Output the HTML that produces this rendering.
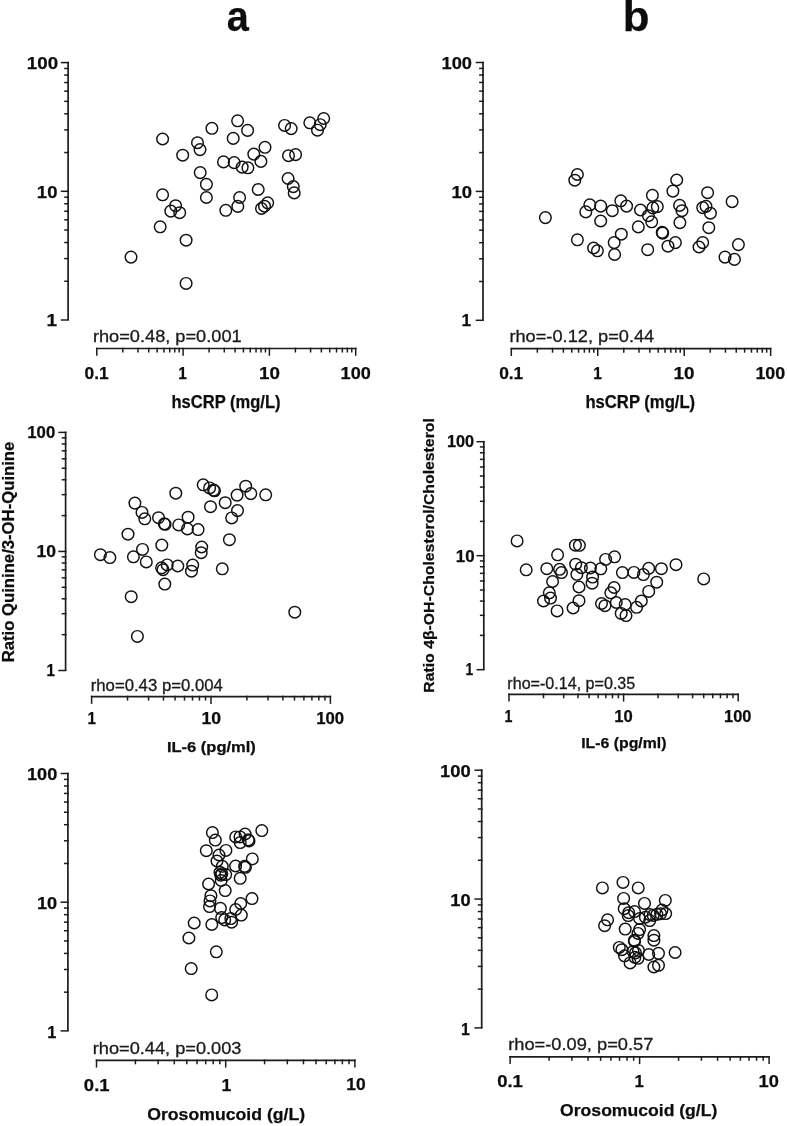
<!DOCTYPE html>
<html><head><meta charset="utf-8"><style>
html,body{margin:0;padding:0;background:#fff;}
svg{display:block;will-change:transform;}
text{font-family:"Liberation Sans", sans-serif;}
circle{fill:none;stroke:#111;stroke-width:1.45;}
</style></head><body>
<svg width="787" height="1126" viewBox="0 0 787 1126">
<line x1="68.10" y1="61.85" x2="68.10" y2="320.00" stroke="#1c1c1c" stroke-width="1.7"/>
<line x1="60.80" y1="320.00" x2="68.95" y2="320.00" stroke="#1c1c1c" stroke-width="1.5"/>
<line x1="64.20" y1="281.26" x2="68.95" y2="281.26" stroke="#1c1c1c" stroke-width="1.5"/>
<line x1="64.20" y1="258.59" x2="68.95" y2="258.59" stroke="#1c1c1c" stroke-width="1.5"/>
<line x1="64.20" y1="242.51" x2="68.95" y2="242.51" stroke="#1c1c1c" stroke-width="1.5"/>
<line x1="64.20" y1="230.04" x2="68.95" y2="230.04" stroke="#1c1c1c" stroke-width="1.5"/>
<line x1="64.20" y1="219.85" x2="68.95" y2="219.85" stroke="#1c1c1c" stroke-width="1.5"/>
<line x1="64.20" y1="211.24" x2="68.95" y2="211.24" stroke="#1c1c1c" stroke-width="1.5"/>
<line x1="64.20" y1="203.77" x2="68.95" y2="203.77" stroke="#1c1c1c" stroke-width="1.5"/>
<line x1="64.20" y1="197.19" x2="68.95" y2="197.19" stroke="#1c1c1c" stroke-width="1.5"/>
<line x1="60.80" y1="191.30" x2="68.95" y2="191.30" stroke="#1c1c1c" stroke-width="1.5"/>
<line x1="64.20" y1="152.56" x2="68.95" y2="152.56" stroke="#1c1c1c" stroke-width="1.5"/>
<line x1="64.20" y1="129.89" x2="68.95" y2="129.89" stroke="#1c1c1c" stroke-width="1.5"/>
<line x1="64.20" y1="113.81" x2="68.95" y2="113.81" stroke="#1c1c1c" stroke-width="1.5"/>
<line x1="64.20" y1="101.34" x2="68.95" y2="101.34" stroke="#1c1c1c" stroke-width="1.5"/>
<line x1="64.20" y1="91.15" x2="68.95" y2="91.15" stroke="#1c1c1c" stroke-width="1.5"/>
<line x1="64.20" y1="82.54" x2="68.95" y2="82.54" stroke="#1c1c1c" stroke-width="1.5"/>
<line x1="64.20" y1="75.07" x2="68.95" y2="75.07" stroke="#1c1c1c" stroke-width="1.5"/>
<line x1="64.20" y1="68.49" x2="68.95" y2="68.49" stroke="#1c1c1c" stroke-width="1.5"/>
<line x1="60.80" y1="62.60" x2="68.95" y2="62.60" stroke="#1c1c1c" stroke-width="1.5"/>
<line x1="96.05" y1="348.50" x2="356.45" y2="348.50" stroke="#1c1c1c" stroke-width="1.7"/>
<line x1="96.80" y1="347.65" x2="96.80" y2="355.80" stroke="#1c1c1c" stroke-width="1.5"/>
<line x1="122.78" y1="347.65" x2="122.78" y2="352.50" stroke="#1c1c1c" stroke-width="1.5"/>
<line x1="137.98" y1="347.65" x2="137.98" y2="352.50" stroke="#1c1c1c" stroke-width="1.5"/>
<line x1="148.76" y1="347.65" x2="148.76" y2="352.50" stroke="#1c1c1c" stroke-width="1.5"/>
<line x1="157.12" y1="347.65" x2="157.12" y2="352.50" stroke="#1c1c1c" stroke-width="1.5"/>
<line x1="163.95" y1="347.65" x2="163.95" y2="352.50" stroke="#1c1c1c" stroke-width="1.5"/>
<line x1="169.73" y1="347.65" x2="169.73" y2="352.50" stroke="#1c1c1c" stroke-width="1.5"/>
<line x1="174.74" y1="347.65" x2="174.74" y2="352.50" stroke="#1c1c1c" stroke-width="1.5"/>
<line x1="179.15" y1="347.65" x2="179.15" y2="352.50" stroke="#1c1c1c" stroke-width="1.5"/>
<line x1="183.10" y1="347.65" x2="183.10" y2="355.80" stroke="#1c1c1c" stroke-width="1.5"/>
<line x1="209.08" y1="347.65" x2="209.08" y2="352.50" stroke="#1c1c1c" stroke-width="1.5"/>
<line x1="224.28" y1="347.65" x2="224.28" y2="352.50" stroke="#1c1c1c" stroke-width="1.5"/>
<line x1="235.06" y1="347.65" x2="235.06" y2="352.50" stroke="#1c1c1c" stroke-width="1.5"/>
<line x1="243.42" y1="347.65" x2="243.42" y2="352.50" stroke="#1c1c1c" stroke-width="1.5"/>
<line x1="250.25" y1="347.65" x2="250.25" y2="352.50" stroke="#1c1c1c" stroke-width="1.5"/>
<line x1="256.03" y1="347.65" x2="256.03" y2="352.50" stroke="#1c1c1c" stroke-width="1.5"/>
<line x1="261.04" y1="347.65" x2="261.04" y2="352.50" stroke="#1c1c1c" stroke-width="1.5"/>
<line x1="265.45" y1="347.65" x2="265.45" y2="352.50" stroke="#1c1c1c" stroke-width="1.5"/>
<line x1="269.40" y1="347.65" x2="269.40" y2="355.80" stroke="#1c1c1c" stroke-width="1.5"/>
<line x1="295.38" y1="347.65" x2="295.38" y2="352.50" stroke="#1c1c1c" stroke-width="1.5"/>
<line x1="310.58" y1="347.65" x2="310.58" y2="352.50" stroke="#1c1c1c" stroke-width="1.5"/>
<line x1="321.36" y1="347.65" x2="321.36" y2="352.50" stroke="#1c1c1c" stroke-width="1.5"/>
<line x1="329.72" y1="347.65" x2="329.72" y2="352.50" stroke="#1c1c1c" stroke-width="1.5"/>
<line x1="336.55" y1="347.65" x2="336.55" y2="352.50" stroke="#1c1c1c" stroke-width="1.5"/>
<line x1="342.33" y1="347.65" x2="342.33" y2="352.50" stroke="#1c1c1c" stroke-width="1.5"/>
<line x1="347.34" y1="347.65" x2="347.34" y2="352.50" stroke="#1c1c1c" stroke-width="1.5"/>
<line x1="351.75" y1="347.65" x2="351.75" y2="352.50" stroke="#1c1c1c" stroke-width="1.5"/>
<line x1="355.70" y1="347.65" x2="355.70" y2="355.80" stroke="#1c1c1c" stroke-width="1.5"/>
<text x="26.88" y="68.70" font-size="17" font-weight="bold" stroke="#0d0d0d" stroke-width="0.25" textLength="31.25" lengthAdjust="spacingAndGlyphs" fill="#0d0d0d">100</text>
<text x="36.89" y="197.60" font-size="17" font-weight="bold" stroke="#0d0d0d" stroke-width="0.25" textLength="20.59" lengthAdjust="spacingAndGlyphs" fill="#0d0d0d">10</text>
<text x="46.46" y="326.10" font-size="17" font-weight="bold" stroke="#0d0d0d" stroke-width="0.25" textLength="10.53" lengthAdjust="spacingAndGlyphs" fill="#0d0d0d">1</text>
<text x="84.61" y="378.50" font-size="17" font-weight="bold" stroke="#0d0d0d" stroke-width="0.25" textLength="24.12" lengthAdjust="spacingAndGlyphs" fill="#0d0d0d">0.1</text>
<text x="178.17" y="378.60" font-size="17" font-weight="bold" stroke="#0d0d0d" stroke-width="0.25" textLength="8.64" lengthAdjust="spacingAndGlyphs" fill="#0d0d0d">1</text>
<text x="259.07" y="378.70" font-size="17" font-weight="bold" stroke="#0d0d0d" stroke-width="0.25" textLength="20.93" lengthAdjust="spacingAndGlyphs" fill="#0d0d0d">10</text>
<text x="340.61" y="378.60" font-size="17" font-weight="bold" stroke="#0d0d0d" stroke-width="0.25" textLength="30.29" lengthAdjust="spacingAndGlyphs" fill="#0d0d0d">100</text>
<text x="92.93" y="342.10" font-size="17" stroke="#1a1a1a" stroke-width="0.3" textLength="148.75" lengthAdjust="spacingAndGlyphs" fill="#1a1a1a">rho=0.48, p=0.001</text>
<text x="171.44" y="408.00" font-size="17.5" font-weight="bold" stroke="#0d0d0d" stroke-width="0.25" textLength="109.13" lengthAdjust="spacingAndGlyphs" fill="#0d0d0d">hsCRP (mg/L)</text>
<circle cx="162.6" cy="139.0" r="5.8"/>
<circle cx="211.9" cy="128.3" r="5.8"/>
<circle cx="237.6" cy="120.8" r="5.8"/>
<circle cx="197.5" cy="142.7" r="5.8"/>
<circle cx="200.0" cy="149.6" r="5.8"/>
<circle cx="182.7" cy="155.2" r="5.8"/>
<circle cx="233.2" cy="138.4" r="5.8"/>
<circle cx="223.5" cy="161.9" r="5.8"/>
<circle cx="234.2" cy="162.6" r="5.8"/>
<circle cx="242.2" cy="167.1" r="5.8"/>
<circle cx="200.2" cy="172.6" r="5.8"/>
<circle cx="206.4" cy="184.3" r="5.8"/>
<circle cx="206.4" cy="197.5" r="5.8"/>
<circle cx="162.6" cy="194.8" r="5.8"/>
<circle cx="175.6" cy="205.7" r="5.8"/>
<circle cx="170.8" cy="211.1" r="5.8"/>
<circle cx="179.7" cy="212.7" r="5.8"/>
<circle cx="160.2" cy="226.8" r="5.8"/>
<circle cx="186.1" cy="240.2" r="5.8"/>
<circle cx="225.8" cy="210.3" r="5.8"/>
<circle cx="239.6" cy="197.5" r="5.8"/>
<circle cx="237.8" cy="206.4" r="5.8"/>
<circle cx="247.6" cy="130.4" r="5.8"/>
<circle cx="265.0" cy="147.3" r="5.8"/>
<circle cx="253.8" cy="154.1" r="5.8"/>
<circle cx="260.9" cy="161.4" r="5.8"/>
<circle cx="247.9" cy="167.8" r="5.8"/>
<circle cx="258.2" cy="189.5" r="5.8"/>
<circle cx="267.7" cy="202.8" r="5.8"/>
<circle cx="264.5" cy="206.2" r="5.8"/>
<circle cx="261.5" cy="208.5" r="5.8"/>
<circle cx="284.6" cy="125.4" r="5.8"/>
<circle cx="291.2" cy="128.6" r="5.8"/>
<circle cx="288.5" cy="155.7" r="5.8"/>
<circle cx="295.6" cy="154.6" r="5.8"/>
<circle cx="288.1" cy="178.5" r="5.8"/>
<circle cx="293.3" cy="186.6" r="5.8"/>
<circle cx="294.2" cy="192.9" r="5.8"/>
<circle cx="309.8" cy="122.8" r="5.8"/>
<circle cx="323.7" cy="118.5" r="5.8"/>
<circle cx="320.2" cy="124.7" r="5.8"/>
<circle cx="317.5" cy="130.2" r="5.8"/>
<circle cx="131.0" cy="257.1" r="5.8"/>
<circle cx="186.1" cy="283.4" r="5.8"/>
<line x1="483.00" y1="61.75" x2="483.00" y2="320.30" stroke="#1c1c1c" stroke-width="1.7"/>
<line x1="475.70" y1="320.30" x2="483.85" y2="320.30" stroke="#1c1c1c" stroke-width="1.5"/>
<line x1="479.10" y1="281.50" x2="483.85" y2="281.50" stroke="#1c1c1c" stroke-width="1.5"/>
<line x1="479.10" y1="258.80" x2="483.85" y2="258.80" stroke="#1c1c1c" stroke-width="1.5"/>
<line x1="479.10" y1="242.69" x2="483.85" y2="242.69" stroke="#1c1c1c" stroke-width="1.5"/>
<line x1="479.10" y1="230.20" x2="483.85" y2="230.20" stroke="#1c1c1c" stroke-width="1.5"/>
<line x1="479.10" y1="220.00" x2="483.85" y2="220.00" stroke="#1c1c1c" stroke-width="1.5"/>
<line x1="479.10" y1="211.37" x2="483.85" y2="211.37" stroke="#1c1c1c" stroke-width="1.5"/>
<line x1="479.10" y1="203.89" x2="483.85" y2="203.89" stroke="#1c1c1c" stroke-width="1.5"/>
<line x1="479.10" y1="197.30" x2="483.85" y2="197.30" stroke="#1c1c1c" stroke-width="1.5"/>
<line x1="475.70" y1="191.40" x2="483.85" y2="191.40" stroke="#1c1c1c" stroke-width="1.5"/>
<line x1="479.10" y1="152.60" x2="483.85" y2="152.60" stroke="#1c1c1c" stroke-width="1.5"/>
<line x1="479.10" y1="129.90" x2="483.85" y2="129.90" stroke="#1c1c1c" stroke-width="1.5"/>
<line x1="479.10" y1="113.79" x2="483.85" y2="113.79" stroke="#1c1c1c" stroke-width="1.5"/>
<line x1="479.10" y1="101.30" x2="483.85" y2="101.30" stroke="#1c1c1c" stroke-width="1.5"/>
<line x1="479.10" y1="91.10" x2="483.85" y2="91.10" stroke="#1c1c1c" stroke-width="1.5"/>
<line x1="479.10" y1="82.47" x2="483.85" y2="82.47" stroke="#1c1c1c" stroke-width="1.5"/>
<line x1="479.10" y1="74.99" x2="483.85" y2="74.99" stroke="#1c1c1c" stroke-width="1.5"/>
<line x1="479.10" y1="68.40" x2="483.85" y2="68.40" stroke="#1c1c1c" stroke-width="1.5"/>
<line x1="475.70" y1="62.50" x2="483.85" y2="62.50" stroke="#1c1c1c" stroke-width="1.5"/>
<line x1="510.55" y1="348.70" x2="771.40" y2="348.70" stroke="#1c1c1c" stroke-width="1.7"/>
<line x1="511.30" y1="347.85" x2="511.30" y2="356.00" stroke="#1c1c1c" stroke-width="1.5"/>
<line x1="537.32" y1="347.85" x2="537.32" y2="352.70" stroke="#1c1c1c" stroke-width="1.5"/>
<line x1="552.55" y1="347.85" x2="552.55" y2="352.70" stroke="#1c1c1c" stroke-width="1.5"/>
<line x1="563.35" y1="347.85" x2="563.35" y2="352.70" stroke="#1c1c1c" stroke-width="1.5"/>
<line x1="571.73" y1="347.85" x2="571.73" y2="352.70" stroke="#1c1c1c" stroke-width="1.5"/>
<line x1="578.57" y1="347.85" x2="578.57" y2="352.70" stroke="#1c1c1c" stroke-width="1.5"/>
<line x1="584.36" y1="347.85" x2="584.36" y2="352.70" stroke="#1c1c1c" stroke-width="1.5"/>
<line x1="589.37" y1="347.85" x2="589.37" y2="352.70" stroke="#1c1c1c" stroke-width="1.5"/>
<line x1="593.79" y1="347.85" x2="593.79" y2="352.70" stroke="#1c1c1c" stroke-width="1.5"/>
<line x1="597.75" y1="347.85" x2="597.75" y2="356.00" stroke="#1c1c1c" stroke-width="1.5"/>
<line x1="623.77" y1="347.85" x2="623.77" y2="352.70" stroke="#1c1c1c" stroke-width="1.5"/>
<line x1="639.00" y1="347.85" x2="639.00" y2="352.70" stroke="#1c1c1c" stroke-width="1.5"/>
<line x1="649.80" y1="347.85" x2="649.80" y2="352.70" stroke="#1c1c1c" stroke-width="1.5"/>
<line x1="658.18" y1="347.85" x2="658.18" y2="352.70" stroke="#1c1c1c" stroke-width="1.5"/>
<line x1="665.02" y1="347.85" x2="665.02" y2="352.70" stroke="#1c1c1c" stroke-width="1.5"/>
<line x1="670.81" y1="347.85" x2="670.81" y2="352.70" stroke="#1c1c1c" stroke-width="1.5"/>
<line x1="675.82" y1="347.85" x2="675.82" y2="352.70" stroke="#1c1c1c" stroke-width="1.5"/>
<line x1="680.24" y1="347.85" x2="680.24" y2="352.70" stroke="#1c1c1c" stroke-width="1.5"/>
<line x1="684.20" y1="347.85" x2="684.20" y2="356.00" stroke="#1c1c1c" stroke-width="1.5"/>
<line x1="710.22" y1="347.85" x2="710.22" y2="352.70" stroke="#1c1c1c" stroke-width="1.5"/>
<line x1="725.45" y1="347.85" x2="725.45" y2="352.70" stroke="#1c1c1c" stroke-width="1.5"/>
<line x1="736.25" y1="347.85" x2="736.25" y2="352.70" stroke="#1c1c1c" stroke-width="1.5"/>
<line x1="744.63" y1="347.85" x2="744.63" y2="352.70" stroke="#1c1c1c" stroke-width="1.5"/>
<line x1="751.47" y1="347.85" x2="751.47" y2="352.70" stroke="#1c1c1c" stroke-width="1.5"/>
<line x1="757.26" y1="347.85" x2="757.26" y2="352.70" stroke="#1c1c1c" stroke-width="1.5"/>
<line x1="762.27" y1="347.85" x2="762.27" y2="352.70" stroke="#1c1c1c" stroke-width="1.5"/>
<line x1="766.69" y1="347.85" x2="766.69" y2="352.70" stroke="#1c1c1c" stroke-width="1.5"/>
<line x1="770.65" y1="347.85" x2="770.65" y2="356.00" stroke="#1c1c1c" stroke-width="1.5"/>
<text x="441.50" y="68.90" font-size="17" font-weight="bold" stroke="#0d0d0d" stroke-width="0.25" textLength="30.50" lengthAdjust="spacingAndGlyphs" fill="#0d0d0d">100</text>
<text x="451.59" y="198.20" font-size="17" font-weight="bold" stroke="#0d0d0d" stroke-width="0.25" textLength="20.59" lengthAdjust="spacingAndGlyphs" fill="#0d0d0d">10</text>
<text x="461.57" y="326.40" font-size="17" font-weight="bold" stroke="#0d0d0d" stroke-width="0.25" textLength="9.59" lengthAdjust="spacingAndGlyphs" fill="#0d0d0d">1</text>
<text x="499.16" y="378.60" font-size="17" font-weight="bold" stroke="#0d0d0d" stroke-width="0.25" textLength="24.12" lengthAdjust="spacingAndGlyphs" fill="#0d0d0d">0.1</text>
<text x="593.17" y="378.60" font-size="17" font-weight="bold" stroke="#0d0d0d" stroke-width="0.25" textLength="8.64" lengthAdjust="spacingAndGlyphs" fill="#0d0d0d">1</text>
<text x="673.57" y="378.70" font-size="17" font-weight="bold" stroke="#0d0d0d" stroke-width="0.25" textLength="20.93" lengthAdjust="spacingAndGlyphs" fill="#0d0d0d">10</text>
<text x="755.43" y="378.60" font-size="17" font-weight="bold" stroke="#0d0d0d" stroke-width="0.25" textLength="29.86" lengthAdjust="spacingAndGlyphs" fill="#0d0d0d">100</text>
<text x="509.42" y="342.40" font-size="17" stroke="#1a1a1a" stroke-width="0.3" textLength="144.84" lengthAdjust="spacingAndGlyphs" fill="#1a1a1a">rho=-0.12, p=0.44</text>
<text x="585.43" y="408.10" font-size="17.5" font-weight="bold" stroke="#0d0d0d" stroke-width="0.25" textLength="109.74" lengthAdjust="spacingAndGlyphs" fill="#0d0d0d">hsCRP (mg/L)</text>
<circle cx="545.4" cy="217.6" r="5.8"/>
<circle cx="577.4" cy="174.5" r="5.8"/>
<circle cx="574.8" cy="180.2" r="5.8"/>
<circle cx="589.8" cy="204.8" r="5.8"/>
<circle cx="585.8" cy="211.9" r="5.8"/>
<circle cx="600.7" cy="206.1" r="5.8"/>
<circle cx="600.7" cy="221.0" r="5.8"/>
<circle cx="612.3" cy="210.7" r="5.8"/>
<circle cx="620.8" cy="200.8" r="5.8"/>
<circle cx="626.6" cy="206.1" r="5.8"/>
<circle cx="640.5" cy="210.0" r="5.8"/>
<circle cx="652.4" cy="195.3" r="5.8"/>
<circle cx="652.8" cy="207.9" r="5.8"/>
<circle cx="657.3" cy="206.6" r="5.8"/>
<circle cx="648.4" cy="215.7" r="5.8"/>
<circle cx="651.7" cy="221.8" r="5.8"/>
<circle cx="638.3" cy="226.9" r="5.8"/>
<circle cx="621.3" cy="234.2" r="5.8"/>
<circle cx="614.2" cy="242.6" r="5.8"/>
<circle cx="614.6" cy="254.5" r="5.8"/>
<circle cx="593.6" cy="248.0" r="5.8"/>
<circle cx="597.4" cy="250.8" r="5.8"/>
<circle cx="577.4" cy="239.8" r="5.8"/>
<circle cx="647.7" cy="249.7" r="5.8"/>
<circle cx="662.2" cy="232.3" r="5.8"/>
<circle cx="662.7" cy="233.1" r="5.8"/>
<circle cx="668.0" cy="246.2" r="5.8"/>
<circle cx="675.4" cy="242.6" r="5.8"/>
<circle cx="676.7" cy="180.0" r="5.8"/>
<circle cx="672.9" cy="191.1" r="5.8"/>
<circle cx="679.6" cy="205.4" r="5.8"/>
<circle cx="682.0" cy="210.7" r="5.8"/>
<circle cx="679.9" cy="222.6" r="5.8"/>
<circle cx="707.6" cy="192.7" r="5.8"/>
<circle cx="702.7" cy="207.6" r="5.8"/>
<circle cx="706.0" cy="206.3" r="5.8"/>
<circle cx="710.4" cy="213.2" r="5.8"/>
<circle cx="708.8" cy="227.7" r="5.8"/>
<circle cx="702.7" cy="242.6" r="5.8"/>
<circle cx="699.0" cy="247.0" r="5.8"/>
<circle cx="732.1" cy="201.6" r="5.8"/>
<circle cx="738.4" cy="244.6" r="5.8"/>
<circle cx="725.0" cy="257.1" r="5.8"/>
<circle cx="734.4" cy="259.4" r="5.8"/>
<line x1="65.60" y1="431.65" x2="65.60" y2="670.50" stroke="#1c1c1c" stroke-width="1.7"/>
<line x1="58.30" y1="670.50" x2="66.45" y2="670.50" stroke="#1c1c1c" stroke-width="1.5"/>
<line x1="61.70" y1="634.66" x2="66.45" y2="634.66" stroke="#1c1c1c" stroke-width="1.5"/>
<line x1="61.70" y1="613.70" x2="66.45" y2="613.70" stroke="#1c1c1c" stroke-width="1.5"/>
<line x1="61.70" y1="598.82" x2="66.45" y2="598.82" stroke="#1c1c1c" stroke-width="1.5"/>
<line x1="61.70" y1="587.29" x2="66.45" y2="587.29" stroke="#1c1c1c" stroke-width="1.5"/>
<line x1="61.70" y1="577.86" x2="66.45" y2="577.86" stroke="#1c1c1c" stroke-width="1.5"/>
<line x1="61.70" y1="569.89" x2="66.45" y2="569.89" stroke="#1c1c1c" stroke-width="1.5"/>
<line x1="61.70" y1="562.99" x2="66.45" y2="562.99" stroke="#1c1c1c" stroke-width="1.5"/>
<line x1="61.70" y1="556.90" x2="66.45" y2="556.90" stroke="#1c1c1c" stroke-width="1.5"/>
<line x1="58.30" y1="551.45" x2="66.45" y2="551.45" stroke="#1c1c1c" stroke-width="1.5"/>
<line x1="61.70" y1="515.61" x2="66.45" y2="515.61" stroke="#1c1c1c" stroke-width="1.5"/>
<line x1="61.70" y1="494.65" x2="66.45" y2="494.65" stroke="#1c1c1c" stroke-width="1.5"/>
<line x1="61.70" y1="479.77" x2="66.45" y2="479.77" stroke="#1c1c1c" stroke-width="1.5"/>
<line x1="61.70" y1="468.24" x2="66.45" y2="468.24" stroke="#1c1c1c" stroke-width="1.5"/>
<line x1="61.70" y1="458.81" x2="66.45" y2="458.81" stroke="#1c1c1c" stroke-width="1.5"/>
<line x1="61.70" y1="450.84" x2="66.45" y2="450.84" stroke="#1c1c1c" stroke-width="1.5"/>
<line x1="61.70" y1="443.94" x2="66.45" y2="443.94" stroke="#1c1c1c" stroke-width="1.5"/>
<line x1="61.70" y1="437.85" x2="66.45" y2="437.85" stroke="#1c1c1c" stroke-width="1.5"/>
<line x1="58.30" y1="432.40" x2="66.45" y2="432.40" stroke="#1c1c1c" stroke-width="1.5"/>
<line x1="90.85" y1="696.60" x2="331.15" y2="696.60" stroke="#1c1c1c" stroke-width="1.7"/>
<line x1="91.60" y1="695.75" x2="91.60" y2="703.90" stroke="#1c1c1c" stroke-width="1.5"/>
<line x1="127.54" y1="695.75" x2="127.54" y2="700.60" stroke="#1c1c1c" stroke-width="1.5"/>
<line x1="148.57" y1="695.75" x2="148.57" y2="700.60" stroke="#1c1c1c" stroke-width="1.5"/>
<line x1="163.49" y1="695.75" x2="163.49" y2="700.60" stroke="#1c1c1c" stroke-width="1.5"/>
<line x1="175.06" y1="695.75" x2="175.06" y2="700.60" stroke="#1c1c1c" stroke-width="1.5"/>
<line x1="184.51" y1="695.75" x2="184.51" y2="700.60" stroke="#1c1c1c" stroke-width="1.5"/>
<line x1="192.50" y1="695.75" x2="192.50" y2="700.60" stroke="#1c1c1c" stroke-width="1.5"/>
<line x1="199.43" y1="695.75" x2="199.43" y2="700.60" stroke="#1c1c1c" stroke-width="1.5"/>
<line x1="205.54" y1="695.75" x2="205.54" y2="700.60" stroke="#1c1c1c" stroke-width="1.5"/>
<line x1="211.00" y1="695.75" x2="211.00" y2="703.90" stroke="#1c1c1c" stroke-width="1.5"/>
<line x1="246.94" y1="695.75" x2="246.94" y2="700.60" stroke="#1c1c1c" stroke-width="1.5"/>
<line x1="267.97" y1="695.75" x2="267.97" y2="700.60" stroke="#1c1c1c" stroke-width="1.5"/>
<line x1="282.89" y1="695.75" x2="282.89" y2="700.60" stroke="#1c1c1c" stroke-width="1.5"/>
<line x1="294.46" y1="695.75" x2="294.46" y2="700.60" stroke="#1c1c1c" stroke-width="1.5"/>
<line x1="303.91" y1="695.75" x2="303.91" y2="700.60" stroke="#1c1c1c" stroke-width="1.5"/>
<line x1="311.90" y1="695.75" x2="311.90" y2="700.60" stroke="#1c1c1c" stroke-width="1.5"/>
<line x1="318.83" y1="695.75" x2="318.83" y2="700.60" stroke="#1c1c1c" stroke-width="1.5"/>
<line x1="324.94" y1="695.75" x2="324.94" y2="700.60" stroke="#1c1c1c" stroke-width="1.5"/>
<line x1="330.40" y1="695.75" x2="330.40" y2="703.90" stroke="#1c1c1c" stroke-width="1.5"/>
<text x="27.29" y="438.30" font-size="15.8" font-weight="bold" stroke="#0d0d0d" stroke-width="0.25" textLength="27.95" lengthAdjust="spacingAndGlyphs" fill="#0d0d0d">100</text>
<text x="36.45" y="557.20" font-size="15.8" font-weight="bold" stroke="#0d0d0d" stroke-width="0.25" textLength="19.49" lengthAdjust="spacingAndGlyphs" fill="#0d0d0d">10</text>
<text x="46.39" y="676.30" font-size="15.8" font-weight="bold" stroke="#0d0d0d" stroke-width="0.25" textLength="8.40" lengthAdjust="spacingAndGlyphs" fill="#0d0d0d">1</text>
<text x="87.59" y="723.90" font-size="15.8" font-weight="bold" stroke="#0d0d0d" stroke-width="0.25" textLength="8.40" lengthAdjust="spacingAndGlyphs" fill="#0d0d0d">1</text>
<text x="201.54" y="724.20" font-size="15.8" font-weight="bold" stroke="#0d0d0d" stroke-width="0.25" textLength="19.60" lengthAdjust="spacingAndGlyphs" fill="#0d0d0d">10</text>
<text x="316.19" y="724.00" font-size="15.8" font-weight="bold" stroke="#0d0d0d" stroke-width="0.25" textLength="27.95" lengthAdjust="spacingAndGlyphs" fill="#0d0d0d">100</text>
<text x="90.73" y="690.70" font-size="16" stroke="#1a1a1a" stroke-width="0.3" textLength="132.11" lengthAdjust="spacingAndGlyphs" fill="#1a1a1a">rho=0.43 p=0.004</text>
<text x="166.95" y="751.50" font-size="14.6" font-weight="bold" stroke="#0d0d0d" stroke-width="0.25" textLength="88.85" lengthAdjust="spacingAndGlyphs" fill="#0d0d0d">IL-6 (pg/ml)</text>
<text x="0" y="0" font-size="15.6" font-weight="bold" stroke="#0d0d0d" stroke-width="0.25" textLength="220.71" lengthAdjust="spacingAndGlyphs" fill="#0d0d0d" transform="translate(14.10,662.37) rotate(-90)">Ratio Quinine/3-OH-Quinine</text>
<circle cx="100.4" cy="554.7" r="5.8"/>
<circle cx="109.9" cy="557.6" r="5.8"/>
<circle cx="128.0" cy="534.2" r="5.8"/>
<circle cx="134.9" cy="503.1" r="5.8"/>
<circle cx="142.0" cy="512.4" r="5.8"/>
<circle cx="144.8" cy="518.8" r="5.8"/>
<circle cx="133.4" cy="556.8" r="5.8"/>
<circle cx="142.5" cy="549.4" r="5.8"/>
<circle cx="146.3" cy="561.9" r="5.8"/>
<circle cx="158.5" cy="517.7" r="5.8"/>
<circle cx="164.3" cy="523.8" r="5.8"/>
<circle cx="165.1" cy="524.3" r="5.8"/>
<circle cx="161.8" cy="545.1" r="5.8"/>
<circle cx="167.2" cy="564.9" r="5.8"/>
<circle cx="161.6" cy="567.8" r="5.8"/>
<circle cx="163.0" cy="569.7" r="5.8"/>
<circle cx="164.8" cy="584.1" r="5.8"/>
<circle cx="131.2" cy="596.7" r="5.8"/>
<circle cx="175.8" cy="493.2" r="5.8"/>
<circle cx="178.7" cy="524.9" r="5.8"/>
<circle cx="188.1" cy="517.2" r="5.8"/>
<circle cx="187.4" cy="528.9" r="5.8"/>
<circle cx="198.1" cy="529.6" r="5.8"/>
<circle cx="177.8" cy="566.0" r="5.8"/>
<circle cx="192.7" cy="565.1" r="5.8"/>
<circle cx="191.5" cy="571.2" r="5.8"/>
<circle cx="201.7" cy="547.0" r="5.8"/>
<circle cx="201.2" cy="552.7" r="5.8"/>
<circle cx="203.2" cy="484.8" r="5.8"/>
<circle cx="209.6" cy="487.9" r="5.8"/>
<circle cx="213.6" cy="490.1" r="5.8"/>
<circle cx="214.5" cy="490.8" r="5.8"/>
<circle cx="210.5" cy="506.7" r="5.8"/>
<circle cx="225.2" cy="502.7" r="5.8"/>
<circle cx="237.1" cy="495.1" r="5.8"/>
<circle cx="245.7" cy="486.2" r="5.8"/>
<circle cx="250.8" cy="493.6" r="5.8"/>
<circle cx="265.7" cy="494.8" r="5.8"/>
<circle cx="237.5" cy="510.6" r="5.8"/>
<circle cx="231.7" cy="517.9" r="5.8"/>
<circle cx="229.4" cy="539.7" r="5.8"/>
<circle cx="222.3" cy="568.8" r="5.8"/>
<circle cx="294.8" cy="612.2" r="5.8"/>
<circle cx="137.4" cy="636.4" r="5.8"/>
<line x1="483.80" y1="440.95" x2="483.80" y2="669.70" stroke="#1c1c1c" stroke-width="1.7"/>
<line x1="476.50" y1="669.70" x2="484.65" y2="669.70" stroke="#1c1c1c" stroke-width="1.5"/>
<line x1="479.90" y1="635.38" x2="484.65" y2="635.38" stroke="#1c1c1c" stroke-width="1.5"/>
<line x1="479.90" y1="615.31" x2="484.65" y2="615.31" stroke="#1c1c1c" stroke-width="1.5"/>
<line x1="479.90" y1="601.07" x2="484.65" y2="601.07" stroke="#1c1c1c" stroke-width="1.5"/>
<line x1="479.90" y1="590.02" x2="484.65" y2="590.02" stroke="#1c1c1c" stroke-width="1.5"/>
<line x1="479.90" y1="580.99" x2="484.65" y2="580.99" stroke="#1c1c1c" stroke-width="1.5"/>
<line x1="479.90" y1="573.36" x2="484.65" y2="573.36" stroke="#1c1c1c" stroke-width="1.5"/>
<line x1="479.90" y1="566.75" x2="484.65" y2="566.75" stroke="#1c1c1c" stroke-width="1.5"/>
<line x1="479.90" y1="560.92" x2="484.65" y2="560.92" stroke="#1c1c1c" stroke-width="1.5"/>
<line x1="476.50" y1="555.70" x2="484.65" y2="555.70" stroke="#1c1c1c" stroke-width="1.5"/>
<line x1="479.90" y1="521.38" x2="484.65" y2="521.38" stroke="#1c1c1c" stroke-width="1.5"/>
<line x1="479.90" y1="501.31" x2="484.65" y2="501.31" stroke="#1c1c1c" stroke-width="1.5"/>
<line x1="479.90" y1="487.07" x2="484.65" y2="487.07" stroke="#1c1c1c" stroke-width="1.5"/>
<line x1="479.90" y1="476.02" x2="484.65" y2="476.02" stroke="#1c1c1c" stroke-width="1.5"/>
<line x1="479.90" y1="466.99" x2="484.65" y2="466.99" stroke="#1c1c1c" stroke-width="1.5"/>
<line x1="479.90" y1="459.36" x2="484.65" y2="459.36" stroke="#1c1c1c" stroke-width="1.5"/>
<line x1="479.90" y1="452.75" x2="484.65" y2="452.75" stroke="#1c1c1c" stroke-width="1.5"/>
<line x1="479.90" y1="446.92" x2="484.65" y2="446.92" stroke="#1c1c1c" stroke-width="1.5"/>
<line x1="476.50" y1="441.70" x2="484.65" y2="441.70" stroke="#1c1c1c" stroke-width="1.5"/>
<line x1="508.25" y1="694.30" x2="738.95" y2="694.30" stroke="#1c1c1c" stroke-width="1.7"/>
<line x1="509.00" y1="693.45" x2="509.00" y2="701.60" stroke="#1c1c1c" stroke-width="1.5"/>
<line x1="543.50" y1="693.45" x2="543.50" y2="698.30" stroke="#1c1c1c" stroke-width="1.5"/>
<line x1="563.68" y1="693.45" x2="563.68" y2="698.30" stroke="#1c1c1c" stroke-width="1.5"/>
<line x1="578.00" y1="693.45" x2="578.00" y2="698.30" stroke="#1c1c1c" stroke-width="1.5"/>
<line x1="589.10" y1="693.45" x2="589.10" y2="698.30" stroke="#1c1c1c" stroke-width="1.5"/>
<line x1="598.18" y1="693.45" x2="598.18" y2="698.30" stroke="#1c1c1c" stroke-width="1.5"/>
<line x1="605.85" y1="693.45" x2="605.85" y2="698.30" stroke="#1c1c1c" stroke-width="1.5"/>
<line x1="612.49" y1="693.45" x2="612.49" y2="698.30" stroke="#1c1c1c" stroke-width="1.5"/>
<line x1="618.36" y1="693.45" x2="618.36" y2="698.30" stroke="#1c1c1c" stroke-width="1.5"/>
<line x1="623.60" y1="693.45" x2="623.60" y2="701.60" stroke="#1c1c1c" stroke-width="1.5"/>
<line x1="658.10" y1="693.45" x2="658.10" y2="698.30" stroke="#1c1c1c" stroke-width="1.5"/>
<line x1="678.28" y1="693.45" x2="678.28" y2="698.30" stroke="#1c1c1c" stroke-width="1.5"/>
<line x1="692.60" y1="693.45" x2="692.60" y2="698.30" stroke="#1c1c1c" stroke-width="1.5"/>
<line x1="703.70" y1="693.45" x2="703.70" y2="698.30" stroke="#1c1c1c" stroke-width="1.5"/>
<line x1="712.78" y1="693.45" x2="712.78" y2="698.30" stroke="#1c1c1c" stroke-width="1.5"/>
<line x1="720.45" y1="693.45" x2="720.45" y2="698.30" stroke="#1c1c1c" stroke-width="1.5"/>
<line x1="727.09" y1="693.45" x2="727.09" y2="698.30" stroke="#1c1c1c" stroke-width="1.5"/>
<line x1="732.96" y1="693.45" x2="732.96" y2="698.30" stroke="#1c1c1c" stroke-width="1.5"/>
<line x1="738.20" y1="693.45" x2="738.20" y2="701.60" stroke="#1c1c1c" stroke-width="1.5"/>
<text x="446.92" y="447.00" font-size="15.8" font-weight="bold" stroke="#0d0d0d" stroke-width="0.25" textLength="27.21" lengthAdjust="spacingAndGlyphs" fill="#0d0d0d">100</text>
<text x="455.78" y="561.50" font-size="15.8" font-weight="bold" stroke="#0d0d0d" stroke-width="0.25" textLength="18.83" lengthAdjust="spacingAndGlyphs" fill="#0d0d0d">10</text>
<text x="465.47" y="675.30" font-size="15.8" font-weight="bold" stroke="#0d0d0d" stroke-width="0.25" textLength="7.69" lengthAdjust="spacingAndGlyphs" fill="#0d0d0d">1</text>
<text x="504.44" y="721.60" font-size="15.8" font-weight="bold" stroke="#0d0d0d" stroke-width="0.25" textLength="7.93" lengthAdjust="spacingAndGlyphs" fill="#0d0d0d">1</text>
<text x="614.30" y="721.70" font-size="15.8" font-weight="bold" stroke="#0d0d0d" stroke-width="0.25" textLength="18.50" lengthAdjust="spacingAndGlyphs" fill="#0d0d0d">10</text>
<text x="724.01" y="721.70" font-size="15.8" font-weight="bold" stroke="#0d0d0d" stroke-width="0.25" textLength="27.42" lengthAdjust="spacingAndGlyphs" fill="#0d0d0d">100</text>
<text x="507.37" y="689.00" font-size="15.6" stroke="#1a1a1a" stroke-width="0.3" textLength="127.88" lengthAdjust="spacingAndGlyphs" fill="#1a1a1a">rho=-0.14, p=0.35</text>
<text x="581.19" y="747.90" font-size="14.4" font-weight="bold" stroke="#0d0d0d" stroke-width="0.25" textLength="85.27" lengthAdjust="spacingAndGlyphs" fill="#0d0d0d">IL-6 (pg/ml)</text>
<text x="0" y="0" font-size="15" font-weight="bold" stroke="#0d0d0d" stroke-width="0.25" textLength="274.51" lengthAdjust="spacingAndGlyphs" fill="#0d0d0d" transform="translate(434.40,692.70) rotate(-90)">Ratio 4&#946;-OH-Cholesterol/Cholesterol</text>
<circle cx="517.1" cy="540.9" r="5.8"/>
<circle cx="526.2" cy="569.8" r="5.8"/>
<circle cx="546.8" cy="568.7" r="5.8"/>
<circle cx="557.6" cy="554.8" r="5.8"/>
<circle cx="559.6" cy="569.3" r="5.8"/>
<circle cx="561.5" cy="572.6" r="5.8"/>
<circle cx="552.6" cy="581.5" r="5.8"/>
<circle cx="549.3" cy="592.8" r="5.8"/>
<circle cx="550.5" cy="598.1" r="5.8"/>
<circle cx="543.5" cy="601.0" r="5.8"/>
<circle cx="557.1" cy="610.9" r="5.8"/>
<circle cx="575.4" cy="545.2" r="5.8"/>
<circle cx="579.4" cy="545.3" r="5.8"/>
<circle cx="575.7" cy="564.2" r="5.8"/>
<circle cx="581.4" cy="567.7" r="5.8"/>
<circle cx="576.9" cy="574.3" r="5.8"/>
<circle cx="579.0" cy="587.0" r="5.8"/>
<circle cx="579.0" cy="600.7" r="5.8"/>
<circle cx="573.1" cy="608.0" r="5.8"/>
<circle cx="590.4" cy="568.0" r="5.8"/>
<circle cx="592.6" cy="577.1" r="5.8"/>
<circle cx="592.1" cy="583.2" r="5.8"/>
<circle cx="600.8" cy="568.8" r="5.8"/>
<circle cx="605.6" cy="559.4" r="5.8"/>
<circle cx="614.6" cy="556.8" r="5.8"/>
<circle cx="614.1" cy="587.5" r="5.8"/>
<circle cx="610.8" cy="592.8" r="5.8"/>
<circle cx="601.5" cy="603.5" r="5.8"/>
<circle cx="605.0" cy="605.7" r="5.8"/>
<circle cx="616.3" cy="602.5" r="5.8"/>
<circle cx="625.2" cy="604.5" r="5.8"/>
<circle cx="621.2" cy="613.4" r="5.8"/>
<circle cx="626.0" cy="615.6" r="5.8"/>
<circle cx="622.4" cy="572.6" r="5.8"/>
<circle cx="633.9" cy="572.4" r="5.8"/>
<circle cx="636.6" cy="607.3" r="5.8"/>
<circle cx="641.3" cy="601.0" r="5.8"/>
<circle cx="643.4" cy="574.6" r="5.8"/>
<circle cx="648.7" cy="568.3" r="5.8"/>
<circle cx="661.4" cy="568.7" r="5.8"/>
<circle cx="676.0" cy="564.7" r="5.8"/>
<circle cx="703.7" cy="578.9" r="5.8"/>
<circle cx="656.7" cy="582.2" r="5.8"/>
<circle cx="648.7" cy="591.4" r="5.8"/>
<line x1="67.90" y1="772.75" x2="67.90" y2="1030.90" stroke="#1c1c1c" stroke-width="1.7"/>
<line x1="60.60" y1="1030.90" x2="68.75" y2="1030.90" stroke="#1c1c1c" stroke-width="1.5"/>
<line x1="64.00" y1="992.16" x2="68.75" y2="992.16" stroke="#1c1c1c" stroke-width="1.5"/>
<line x1="64.00" y1="969.49" x2="68.75" y2="969.49" stroke="#1c1c1c" stroke-width="1.5"/>
<line x1="64.00" y1="953.41" x2="68.75" y2="953.41" stroke="#1c1c1c" stroke-width="1.5"/>
<line x1="64.00" y1="940.94" x2="68.75" y2="940.94" stroke="#1c1c1c" stroke-width="1.5"/>
<line x1="64.00" y1="930.75" x2="68.75" y2="930.75" stroke="#1c1c1c" stroke-width="1.5"/>
<line x1="64.00" y1="922.14" x2="68.75" y2="922.14" stroke="#1c1c1c" stroke-width="1.5"/>
<line x1="64.00" y1="914.67" x2="68.75" y2="914.67" stroke="#1c1c1c" stroke-width="1.5"/>
<line x1="64.00" y1="908.09" x2="68.75" y2="908.09" stroke="#1c1c1c" stroke-width="1.5"/>
<line x1="60.60" y1="902.20" x2="68.75" y2="902.20" stroke="#1c1c1c" stroke-width="1.5"/>
<line x1="64.00" y1="863.46" x2="68.75" y2="863.46" stroke="#1c1c1c" stroke-width="1.5"/>
<line x1="64.00" y1="840.79" x2="68.75" y2="840.79" stroke="#1c1c1c" stroke-width="1.5"/>
<line x1="64.00" y1="824.71" x2="68.75" y2="824.71" stroke="#1c1c1c" stroke-width="1.5"/>
<line x1="64.00" y1="812.24" x2="68.75" y2="812.24" stroke="#1c1c1c" stroke-width="1.5"/>
<line x1="64.00" y1="802.05" x2="68.75" y2="802.05" stroke="#1c1c1c" stroke-width="1.5"/>
<line x1="64.00" y1="793.44" x2="68.75" y2="793.44" stroke="#1c1c1c" stroke-width="1.5"/>
<line x1="64.00" y1="785.97" x2="68.75" y2="785.97" stroke="#1c1c1c" stroke-width="1.5"/>
<line x1="64.00" y1="779.39" x2="68.75" y2="779.39" stroke="#1c1c1c" stroke-width="1.5"/>
<line x1="60.60" y1="773.50" x2="68.75" y2="773.50" stroke="#1c1c1c" stroke-width="1.5"/>
<line x1="95.75" y1="1060.30" x2="355.65" y2="1060.30" stroke="#1c1c1c" stroke-width="1.7"/>
<line x1="96.50" y1="1059.45" x2="96.50" y2="1067.60" stroke="#1c1c1c" stroke-width="1.5"/>
<line x1="135.39" y1="1059.45" x2="135.39" y2="1064.30" stroke="#1c1c1c" stroke-width="1.5"/>
<line x1="158.14" y1="1059.45" x2="158.14" y2="1064.30" stroke="#1c1c1c" stroke-width="1.5"/>
<line x1="174.29" y1="1059.45" x2="174.29" y2="1064.30" stroke="#1c1c1c" stroke-width="1.5"/>
<line x1="186.81" y1="1059.45" x2="186.81" y2="1064.30" stroke="#1c1c1c" stroke-width="1.5"/>
<line x1="197.04" y1="1059.45" x2="197.04" y2="1064.30" stroke="#1c1c1c" stroke-width="1.5"/>
<line x1="205.69" y1="1059.45" x2="205.69" y2="1064.30" stroke="#1c1c1c" stroke-width="1.5"/>
<line x1="213.18" y1="1059.45" x2="213.18" y2="1064.30" stroke="#1c1c1c" stroke-width="1.5"/>
<line x1="219.79" y1="1059.45" x2="219.79" y2="1064.30" stroke="#1c1c1c" stroke-width="1.5"/>
<line x1="225.70" y1="1059.45" x2="225.70" y2="1067.60" stroke="#1c1c1c" stroke-width="1.5"/>
<line x1="264.59" y1="1059.45" x2="264.59" y2="1064.30" stroke="#1c1c1c" stroke-width="1.5"/>
<line x1="287.34" y1="1059.45" x2="287.34" y2="1064.30" stroke="#1c1c1c" stroke-width="1.5"/>
<line x1="303.49" y1="1059.45" x2="303.49" y2="1064.30" stroke="#1c1c1c" stroke-width="1.5"/>
<line x1="316.01" y1="1059.45" x2="316.01" y2="1064.30" stroke="#1c1c1c" stroke-width="1.5"/>
<line x1="326.24" y1="1059.45" x2="326.24" y2="1064.30" stroke="#1c1c1c" stroke-width="1.5"/>
<line x1="334.89" y1="1059.45" x2="334.89" y2="1064.30" stroke="#1c1c1c" stroke-width="1.5"/>
<line x1="342.38" y1="1059.45" x2="342.38" y2="1064.30" stroke="#1c1c1c" stroke-width="1.5"/>
<line x1="348.99" y1="1059.45" x2="348.99" y2="1064.30" stroke="#1c1c1c" stroke-width="1.5"/>
<line x1="354.90" y1="1059.45" x2="354.90" y2="1067.60" stroke="#1c1c1c" stroke-width="1.5"/>
<text x="27.01" y="780.00" font-size="17" font-weight="bold" stroke="#0d0d0d" stroke-width="0.25" textLength="30.29" lengthAdjust="spacingAndGlyphs" fill="#0d0d0d">100</text>
<text x="36.91" y="909.00" font-size="17" font-weight="bold" stroke="#0d0d0d" stroke-width="0.25" textLength="20.26" lengthAdjust="spacingAndGlyphs" fill="#0d0d0d">10</text>
<text x="47.32" y="1037.50" font-size="17" font-weight="bold" stroke="#0d0d0d" stroke-width="0.25" textLength="9.11" lengthAdjust="spacingAndGlyphs" fill="#0d0d0d">1</text>
<text x="83.86" y="1090.60" font-size="17" font-weight="bold" stroke="#0d0d0d" stroke-width="0.25" textLength="25.70" lengthAdjust="spacingAndGlyphs" fill="#0d0d0d">0.1</text>
<text x="221.64" y="1090.50" font-size="17" font-weight="bold" stroke="#0d0d0d" stroke-width="0.25" textLength="9.82" lengthAdjust="spacingAndGlyphs" fill="#0d0d0d">1</text>
<text x="346.35" y="1090.30" font-size="17" font-weight="bold" stroke="#0d0d0d" stroke-width="0.25" textLength="19.38" lengthAdjust="spacingAndGlyphs" fill="#0d0d0d">10</text>
<text x="92.73" y="1053.80" font-size="17" stroke="#1a1a1a" stroke-width="0.3" textLength="148.77" lengthAdjust="spacingAndGlyphs" fill="#1a1a1a">rho=0.44, p=0.003</text>
<text x="147.19" y="1120.30" font-size="17.4" font-weight="bold" stroke="#0d0d0d" stroke-width="0.25" textLength="157.96" lengthAdjust="spacingAndGlyphs" fill="#0d0d0d">Orosomucoid (g/L)</text>
<circle cx="212.4" cy="832.6" r="5.8"/>
<circle cx="215.3" cy="840.1" r="5.8"/>
<circle cx="206.3" cy="850.7" r="5.8"/>
<circle cx="225.9" cy="850.4" r="5.8"/>
<circle cx="219.0" cy="855.0" r="5.8"/>
<circle cx="217.0" cy="861.0" r="5.8"/>
<circle cx="222.3" cy="866.3" r="5.8"/>
<circle cx="220.0" cy="872.3" r="5.8"/>
<circle cx="221.8" cy="873.8" r="5.8"/>
<circle cx="220.8" cy="875.2" r="5.8"/>
<circle cx="225.7" cy="874.6" r="5.8"/>
<circle cx="221.2" cy="880.5" r="5.8"/>
<circle cx="235.6" cy="866.0" r="5.8"/>
<circle cx="244.6" cy="866.3" r="5.8"/>
<circle cx="245.4" cy="867.3" r="5.8"/>
<circle cx="240.2" cy="878.3" r="5.8"/>
<circle cx="208.6" cy="884.0" r="5.8"/>
<circle cx="261.8" cy="830.6" r="5.8"/>
<circle cx="235.7" cy="836.9" r="5.8"/>
<circle cx="245.1" cy="834.0" r="5.8"/>
<circle cx="240.2" cy="842.6" r="5.8"/>
<circle cx="249.0" cy="840.9" r="5.8"/>
<circle cx="248.3" cy="839.8" r="5.8"/>
<circle cx="240.0" cy="836.9" r="5.8"/>
<circle cx="252.3" cy="858.9" r="5.8"/>
<circle cx="225.2" cy="890.6" r="5.8"/>
<circle cx="210.9" cy="895.7" r="5.8"/>
<circle cx="210.0" cy="900.9" r="5.8"/>
<circle cx="209.5" cy="906.6" r="5.8"/>
<circle cx="220.4" cy="908.3" r="5.8"/>
<circle cx="235.7" cy="909.5" r="5.8"/>
<circle cx="240.7" cy="903.5" r="5.8"/>
<circle cx="241.3" cy="915.1" r="5.8"/>
<circle cx="221.7" cy="917.6" r="5.8"/>
<circle cx="224.7" cy="919.9" r="5.8"/>
<circle cx="230.8" cy="918.6" r="5.8"/>
<circle cx="231.6" cy="922.2" r="5.8"/>
<circle cx="252.0" cy="898.6" r="5.8"/>
<circle cx="194.2" cy="923.0" r="5.8"/>
<circle cx="211.8" cy="924.5" r="5.8"/>
<circle cx="188.9" cy="938.0" r="5.8"/>
<circle cx="216.3" cy="951.8" r="5.8"/>
<circle cx="191.2" cy="968.6" r="5.8"/>
<circle cx="211.7" cy="994.9" r="5.8"/>
<line x1="481.70" y1="769.45" x2="481.70" y2="1027.90" stroke="#1c1c1c" stroke-width="1.7"/>
<line x1="474.40" y1="1027.90" x2="482.55" y2="1027.90" stroke="#1c1c1c" stroke-width="1.5"/>
<line x1="477.80" y1="989.11" x2="482.55" y2="989.11" stroke="#1c1c1c" stroke-width="1.5"/>
<line x1="477.80" y1="966.42" x2="482.55" y2="966.42" stroke="#1c1c1c" stroke-width="1.5"/>
<line x1="477.80" y1="950.32" x2="482.55" y2="950.32" stroke="#1c1c1c" stroke-width="1.5"/>
<line x1="477.80" y1="937.84" x2="482.55" y2="937.84" stroke="#1c1c1c" stroke-width="1.5"/>
<line x1="477.80" y1="927.64" x2="482.55" y2="927.64" stroke="#1c1c1c" stroke-width="1.5"/>
<line x1="477.80" y1="919.01" x2="482.55" y2="919.01" stroke="#1c1c1c" stroke-width="1.5"/>
<line x1="477.80" y1="911.54" x2="482.55" y2="911.54" stroke="#1c1c1c" stroke-width="1.5"/>
<line x1="477.80" y1="904.95" x2="482.55" y2="904.95" stroke="#1c1c1c" stroke-width="1.5"/>
<line x1="474.40" y1="899.05" x2="482.55" y2="899.05" stroke="#1c1c1c" stroke-width="1.5"/>
<line x1="477.80" y1="860.26" x2="482.55" y2="860.26" stroke="#1c1c1c" stroke-width="1.5"/>
<line x1="477.80" y1="837.57" x2="482.55" y2="837.57" stroke="#1c1c1c" stroke-width="1.5"/>
<line x1="477.80" y1="821.47" x2="482.55" y2="821.47" stroke="#1c1c1c" stroke-width="1.5"/>
<line x1="477.80" y1="808.99" x2="482.55" y2="808.99" stroke="#1c1c1c" stroke-width="1.5"/>
<line x1="477.80" y1="798.79" x2="482.55" y2="798.79" stroke="#1c1c1c" stroke-width="1.5"/>
<line x1="477.80" y1="790.16" x2="482.55" y2="790.16" stroke="#1c1c1c" stroke-width="1.5"/>
<line x1="477.80" y1="782.69" x2="482.55" y2="782.69" stroke="#1c1c1c" stroke-width="1.5"/>
<line x1="477.80" y1="776.10" x2="482.55" y2="776.10" stroke="#1c1c1c" stroke-width="1.5"/>
<line x1="474.40" y1="770.20" x2="482.55" y2="770.20" stroke="#1c1c1c" stroke-width="1.5"/>
<line x1="509.35" y1="1056.80" x2="769.85" y2="1056.80" stroke="#1c1c1c" stroke-width="1.7"/>
<line x1="510.10" y1="1055.95" x2="510.10" y2="1064.10" stroke="#1c1c1c" stroke-width="1.5"/>
<line x1="549.08" y1="1055.95" x2="549.08" y2="1060.80" stroke="#1c1c1c" stroke-width="1.5"/>
<line x1="571.89" y1="1055.95" x2="571.89" y2="1060.80" stroke="#1c1c1c" stroke-width="1.5"/>
<line x1="588.07" y1="1055.95" x2="588.07" y2="1060.80" stroke="#1c1c1c" stroke-width="1.5"/>
<line x1="600.62" y1="1055.95" x2="600.62" y2="1060.80" stroke="#1c1c1c" stroke-width="1.5"/>
<line x1="610.87" y1="1055.95" x2="610.87" y2="1060.80" stroke="#1c1c1c" stroke-width="1.5"/>
<line x1="619.54" y1="1055.95" x2="619.54" y2="1060.80" stroke="#1c1c1c" stroke-width="1.5"/>
<line x1="627.05" y1="1055.95" x2="627.05" y2="1060.80" stroke="#1c1c1c" stroke-width="1.5"/>
<line x1="633.67" y1="1055.95" x2="633.67" y2="1060.80" stroke="#1c1c1c" stroke-width="1.5"/>
<line x1="639.60" y1="1055.95" x2="639.60" y2="1064.10" stroke="#1c1c1c" stroke-width="1.5"/>
<line x1="678.58" y1="1055.95" x2="678.58" y2="1060.80" stroke="#1c1c1c" stroke-width="1.5"/>
<line x1="701.39" y1="1055.95" x2="701.39" y2="1060.80" stroke="#1c1c1c" stroke-width="1.5"/>
<line x1="717.57" y1="1055.95" x2="717.57" y2="1060.80" stroke="#1c1c1c" stroke-width="1.5"/>
<line x1="730.12" y1="1055.95" x2="730.12" y2="1060.80" stroke="#1c1c1c" stroke-width="1.5"/>
<line x1="740.37" y1="1055.95" x2="740.37" y2="1060.80" stroke="#1c1c1c" stroke-width="1.5"/>
<line x1="749.04" y1="1055.95" x2="749.04" y2="1060.80" stroke="#1c1c1c" stroke-width="1.5"/>
<line x1="756.55" y1="1055.95" x2="756.55" y2="1060.80" stroke="#1c1c1c" stroke-width="1.5"/>
<line x1="763.17" y1="1055.95" x2="763.17" y2="1060.80" stroke="#1c1c1c" stroke-width="1.5"/>
<line x1="769.10" y1="1055.95" x2="769.10" y2="1064.10" stroke="#1c1c1c" stroke-width="1.5"/>
<text x="440.10" y="776.70" font-size="17" font-weight="bold" stroke="#0d0d0d" stroke-width="0.25" textLength="30.71" lengthAdjust="spacingAndGlyphs" fill="#0d0d0d">100</text>
<text x="450.30" y="905.70" font-size="17" font-weight="bold" stroke="#0d0d0d" stroke-width="0.25" textLength="20.37" lengthAdjust="spacingAndGlyphs" fill="#0d0d0d">10</text>
<text x="461.04" y="1034.60" font-size="17" font-weight="bold" stroke="#0d0d0d" stroke-width="0.25" textLength="8.88" lengthAdjust="spacingAndGlyphs" fill="#0d0d0d">1</text>
<text x="497.16" y="1086.60" font-size="17" font-weight="bold" stroke="#0d0d0d" stroke-width="0.25" textLength="25.70" lengthAdjust="spacingAndGlyphs" fill="#0d0d0d">0.1</text>
<text x="634.59" y="1086.80" font-size="17" font-weight="bold" stroke="#0d0d0d" stroke-width="0.25" textLength="9.35" lengthAdjust="spacingAndGlyphs" fill="#0d0d0d">1</text>
<text x="758.60" y="1086.80" font-size="17" font-weight="bold" stroke="#0d0d0d" stroke-width="0.25" textLength="20.37" lengthAdjust="spacingAndGlyphs" fill="#0d0d0d">10</text>
<text x="508.22" y="1050.20" font-size="17" stroke="#1a1a1a" stroke-width="0.3" textLength="145.10" lengthAdjust="spacingAndGlyphs" fill="#1a1a1a">rho=-0.09, p=0.57</text>
<text x="560.10" y="1116.20" font-size="17.4" font-weight="bold" stroke="#0d0d0d" stroke-width="0.25" textLength="157.25" lengthAdjust="spacingAndGlyphs" fill="#0d0d0d">Orosomucoid (g/L)</text>
<circle cx="602.4" cy="887.9" r="5.8"/>
<circle cx="623.0" cy="882.4" r="5.8"/>
<circle cx="638.2" cy="887.9" r="5.8"/>
<circle cx="623.6" cy="898.4" r="5.8"/>
<circle cx="644.5" cy="903.4" r="5.8"/>
<circle cx="665.3" cy="900.4" r="5.8"/>
<circle cx="624.2" cy="908.7" r="5.8"/>
<circle cx="628.7" cy="912.7" r="5.8"/>
<circle cx="634.5" cy="911.6" r="5.8"/>
<circle cx="628.2" cy="915.6" r="5.8"/>
<circle cx="607.6" cy="919.8" r="5.8"/>
<circle cx="604.6" cy="925.7" r="5.8"/>
<circle cx="625.2" cy="929.1" r="5.8"/>
<circle cx="639.6" cy="918.5" r="5.8"/>
<circle cx="662.0" cy="910.0" r="5.8"/>
<circle cx="665.7" cy="913.6" r="5.8"/>
<circle cx="650.0" cy="914.6" r="5.8"/>
<circle cx="653.2" cy="915.4" r="5.8"/>
<circle cx="656.9" cy="914.3" r="5.8"/>
<circle cx="660.6" cy="913.7" r="5.8"/>
<circle cx="645.4" cy="917.2" r="5.8"/>
<circle cx="649.7" cy="920.6" r="5.8"/>
<circle cx="639.6" cy="929.6" r="5.8"/>
<circle cx="638.0" cy="933.4" r="5.8"/>
<circle cx="653.9" cy="935.6" r="5.8"/>
<circle cx="653.9" cy="940.2" r="5.8"/>
<circle cx="634.4" cy="940.3" r="5.8"/>
<circle cx="634.5" cy="941.5" r="5.8"/>
<circle cx="635.5" cy="952.9" r="5.8"/>
<circle cx="619.3" cy="947.4" r="5.8"/>
<circle cx="621.9" cy="949.7" r="5.8"/>
<circle cx="624.5" cy="955.8" r="5.8"/>
<circle cx="633.1" cy="951.5" r="5.8"/>
<circle cx="638.5" cy="950.5" r="5.8"/>
<circle cx="634.9" cy="957.3" r="5.8"/>
<circle cx="638.0" cy="958.3" r="5.8"/>
<circle cx="630.1" cy="962.9" r="5.8"/>
<circle cx="648.8" cy="954.5" r="5.8"/>
<circle cx="658.5" cy="953.3" r="5.8"/>
<circle cx="653.9" cy="967.0" r="5.8"/>
<circle cx="658.5" cy="965.3" r="5.8"/>
<circle cx="675.1" cy="952.5" r="5.8"/>
<text x="226.81" y="31.00" font-size="42" font-weight="bold" stroke="#0d0d0d" stroke-width="0.25" textLength="22.04" lengthAdjust="spacingAndGlyphs" fill="#0d0d0d">a</text>
<text x="622.83" y="31.00" font-size="42" font-weight="bold" stroke="#0d0d0d" stroke-width="0.25" textLength="26.76" lengthAdjust="spacingAndGlyphs" fill="#0d0d0d">b</text>
</svg>
</body></html>
